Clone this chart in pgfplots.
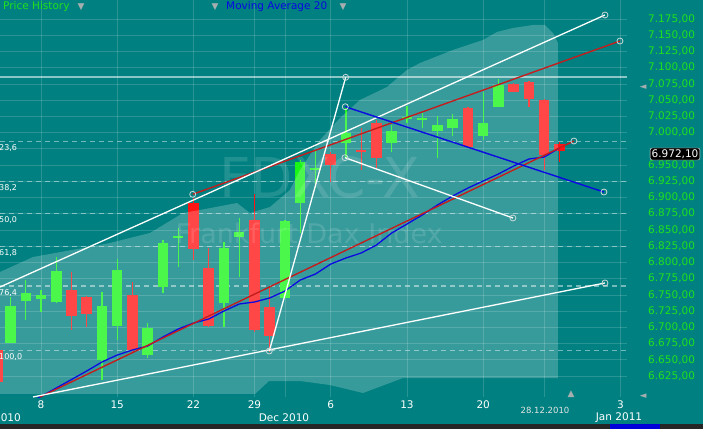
\documentclass[border=0pt]{standalone}
\usepackage{pgfplots}
\pgfplotsset{compat=1.18}
\usepackage{fontspec}
\setmainfont{DejaVu Sans}
\definecolor{bg}{RGB}{0,128,128}
\definecolor{cgreen}{RGB}{25,245,25}
\definecolor{cred}{RGB}{255,20,20}
\definecolor{lblgreen}{RGB}{30,225,30}
\definecolor{trred}{RGB}{195,30,30}
\definecolor{mablue}{RGB}{10,10,225}
\definecolor{circ}{RGB}{200,215,215}
\definecolor{tri}{RGB}{165,175,175}
% candle: position, open, high, low, close
\newcommand{\candleG}[5]{%
\addplot[cgreen, line width=1.2pt, line cap=butt] coordinates {(#1,#4) (#1,#3)};
\addplot[cgreen, line width=10.5pt, line cap=butt] coordinates {(#1,#2) (#1,#5)};}
\newcommand{\candleR}[5]{%
\addplot[cred, line width=1.2pt, line cap=butt] coordinates {(#1,#4) (#1,#3)};
\addplot[cred, line width=10.5pt, line cap=butt] coordinates {(#1,#2) (#1,#5)};}
\begin{document}
\begin{tikzpicture}[x=1pt,y=1pt]
\path[use as bounding box] (0,0) rectangle (703,429);
\fill[bg] (0,0) rectangle (703,429);
\begin{axis}[
  at={(0pt,32pt)}, anchor=south west,
  width=627pt, height=397pt, scale only axis,
  xmin=0.311, xmax=41.43, ymin=6592.65, ymax=7204.2,
  axis line style={draw=none},
  major tick length=0pt,
  xtick={3,8,13,17,22,27,32,41}, xticklabels={8,15,22,29,6,13,20,3},
  extra x ticks={19,36}, extra x tick labels={},
  extra y ticks={6975}, extra y tick labels={},
  extra tick style={grid=major},
  ytick={6625,6650,...,6950,7000,7025,...,7175},
  grid=major, major grid style={white, opacity=0.16, line width=0.7pt},
  yticklabel pos=right,
  /pgf/number format/assume math mode=true,
  yticklabel style={font=\fontsize{10.5}{12}\selectfont, text=lblgreen, anchor=west, inner sep=0pt, xshift=21pt,
    /pgf/number format/.cd, fixed, fixed zerofill, precision=2, use comma, 1000 sep={.}},
  xticklabel style={font=\fontsize{10.5}{12}\selectfont, text=white},
  clip=true,
]
% fibonacci levels
\addplot[white, opacity=0.45, line width=1.2pt, dash pattern=on 5pt off 4pt] coordinates {(0.311,6986.1) (41.43,6986.1)};
\addplot[white, opacity=0.45, line width=1.2pt, dash pattern=on 5pt off 4pt] coordinates {(0.311,6924.5) (41.43,6924.5)};
\addplot[white, opacity=0.45, line width=1.2pt, dash pattern=on 5pt off 4pt] coordinates {(0.311,6874.8) (41.43,6874.8)};
\addplot[white, opacity=0.45, line width=1.2pt, dash pattern=on 5pt off 4pt] coordinates {(0.311,6825.0) (41.43,6825.0)};
\addplot[white, opacity=0.45, line width=1.2pt, dash pattern=on 5pt off 4pt] coordinates {(0.311,6763.5) (41.43,6763.5)};
\addplot[white, opacity=0.45, line width=1.2pt, dash pattern=on 5pt off 4pt] coordinates {(0.311,6664.0) (41.43,6664.0)};
\addplot[white, opacity=0.55, line width=1.2pt] coordinates {(0.311,7085.6) (41.43,7085.6)};
% candles
\candleR{0.15}{6665}{6670}{6600}{6616}
\candleG{1}{6676}{6747}{6676}{6733}
\candleG{2}{6740}{6773}{6711}{6753}
\candleG{3}{6744}{6757}{6724}{6750}
\candleG{4}{6739}{6808}{6737}{6787}
\candleR{5}{6757}{6785}{6696}{6717}
\candleR{6}{6747}{6749}{6700}{6720}
\candleG{7}{6650}{6754}{6619}{6733}
\candleG{8}{6702}{6805}{6680}{6788}
\candleR{9}{6750}{6770}{6662}{6665}
\candleG{10}{6657}{6707}{6653}{6699}
\candleG{11}{6762}{6834}{6753}{6830}
\candleG{12}{6837.5}{6853}{6793}{6840}
\candleR{13}{6891}{6899}{6804}{6821}
\candleR{14}{6791}{6822}{6700}{6702}
\candleG{15}{6737}{6831}{6700}{6822}
\candleG{16}{6839}{6868}{6777}{6847}
\candleR{17}{6865}{6905}{6693}{6696}
\candleR{18}{6731}{6762}{6662}{6687}
\candleG{19}{6745}{6866}{6745}{6864}
\candleG{20}{6891}{6958}{6845}{6955}
\candleG{21}{6943}{6973}{6914}{6946}
\candleR{22}{6967}{6970}{6924}{6950}
\candleG{23}{6984}{7039}{6961}{7000}
\candleR{24}{6973}{7007}{6942}{6970}
\candleR{25}{7015}{7019}{6945}{6961}
\candleG{26}{6984}{7012}{6970}{7002}
\candleG{27}{7021}{7041}{7015}{7024}
\candleG{28}{7019.5}{7030}{7007}{7022.5}
\candleG{29}{7002}{7025}{6961}{7012}
\candleG{30}{7007}{7028}{6995}{7021}
\candleR{31}{7038}{7040}{6976}{6978}
\candleG{32}{6995}{7062}{6988}{7015}
\candleG{33}{7039}{7082}{7039}{7073}
\candleR{34}{7075}{7076}{7062}{7062}
\candleR{35}{7078}{7079}{7039}{7052}
\candleR{36}{7050}{7051}{6942}{6965}
\candleR{37}{6983}{6985}{6955}{6972}
% cloud
\addplot[draw=none, fill=white, fill opacity=0.22] coordinates {
(0.311,6785.2) (2.475,6808.3) (5.754,6822.2) (7.525,6829.9) (10.148,6845.3) (12.311,6876.1) (13.426,6880.7) (15.852,6891.5) (16.705,6876.1) (18.016,6885.3) (19.328,6911.5) (19.984,6942.3) (21.295,6988.5) (22.607,7022.4) (23.918,7050.2) (25.689,7070.2) (27.000,7096.4) (27.852,7107.1) (30.016,7127.2) (31.984,7142.6) (32.902,7154.9) (33.951,7161.1) (35.262,7165.7) (36.049,7165.7) (36.574,7153.4) (36.902,7138.0) (36.902,6621.9) (26.738,6621.9) (24.115,6598.8) (21.951,6611.1) (19.984,6617.3) (17.951,6617.3) (17.033,6597.3) (0.311,6597.3)} -- cycle;
% watermark
\node[text=white, text opacity=0.13, font=\fontsize{55}{60}\selectfont] at (rel axis cs:0.51,0.552) {FDXC-X};
\node[text=white, text opacity=0.13, font=\fontsize{27}{30}\selectfont] at (rel axis cs:0.493,0.413) {Frankfurt Dax Index};
% moving average 20
\addplot[mablue, line width=1.3pt] coordinates {
(2,6580) (3,6593.4) (4,6606.5) (5,6619.6) (6,6632.7) (7,6646.6) (8,6657.3) (9,6665.1) (10,6671.2) (11,6685.1) (12,6697.4) (13,6706.6) (14,6712.8) (15,6725.1) (16,6735.9) (17,6739.0) (18,6745.2) (19,6755.9) (20,6772.9) (21,6782.1) (22,6797.5) (23,6806.8) (24,6814.5) (25,6826.8) (26,6845.3) (27,6859.1) (28,6873.0) (29,6888.4) (30,6902.3) (31,6914.6) (32,6925.4) (33,6936.2) (34,6948.5) (35,6959.3) (36,6962.3) (37,6976.2)};
% trend lines
\addplot[trred, line width=1.4pt] coordinates {(2.934,6592.7) (37.951,6987.0)};
\addplot[trred, line width=1.4pt] coordinates {(12.948,6904.9) (40.967,7141.0)};
\addplot[white, line width=1.3pt] coordinates {(0.311,6762.1) (39.984,7181.1)};
\addplot[white, line width=1.3pt] coordinates {(2.475,6592.7) (39.984,6768.3)};
\addplot[white, line width=1.3pt] coordinates {(17.970,6663.5) (22.980,7085.1)};
\addplot[white, line width=1.3pt] coordinates {(22.934,6961.3) (33.951,6868.4)};
\addplot[mablue, line width=1.4pt] coordinates {(22.954,7039.8) (39.918,6908.4)};
\addplot[only marks, mark=o, mark size=3pt, mark options={draw=circ, line width=0.8pt}] coordinates {
(12.948,6904.9) (40.967,7141.0) (39.984,7181.1) (39.984,6768.3) (17.970,6663.5) (22.980,7085.1) (22.934,6961.3) (33.951,6868.4) (22.954,7039.8) (39.918,6908.4) (37.951,6987.0)};
\end{axis}
% fib labels
\begin{scope}[every node/.style={font=\fontsize{8}{9}\selectfont, text=white, anchor=west, inner sep=0pt}]
\node at (-1,281) {23,6};
\node at (-1,241) {38,2};
\node at (-1,209) {50,0};
\node at (-1,176) {61,8};
\node at (-1,136) {76,4};
\node at (-1,72) {100,0};
\end{scope}
% legend
\node[anchor=west, inner sep=0pt, text=lblgreen, font=\fontsize{10.5}{12}\selectfont] at (3,422) {Price History};
\node[anchor=west, inner sep=0pt, text=mablue, font=\fontsize{10.5}{12}\selectfont] at (226,422) {Moving Average 20};
\begin{scope}[every node/.style={text=tri, font=\fontsize{9}{10}\selectfont, inner sep=0pt}]
\node at (81,422) {▼};
\node at (215,422) {▼};
\node at (343,422) {▼};
\node at (643,342) {◄};
\node at (643,33) {◄};
\node at (571,35) {▲};
\end{scope}
% current price box
\node[fill=black, draw=white, rounded corners=2pt, text=white, inner sep=1.5pt, font=\fontsize{10.5}{12}\selectfont] at (675,275) {6.972,10};
% date labels
\node[text=white, font=\fontsize{10.5}{12}\selectfont] at (284,11) {Dec 2010};
\node[text=white, font=\fontsize{10.5}{12}\selectfont] at (619,11) {Jan 2011};
\node[text=white, font=\fontsize{10.5}{12}\selectfont, anchor=east, inner sep=0pt] at (21,11) {Nov 2010};
\node[text=gray!20, font=\fontsize{8.5}{10}\selectfont] at (545,19) {28.12.2010};
% bottom strip
\fill[black!85] (0,0) rectangle (703,5);
\fill[blue!85!black] (610,0) rectangle (660,5);
\end{tikzpicture}
\end{document}
